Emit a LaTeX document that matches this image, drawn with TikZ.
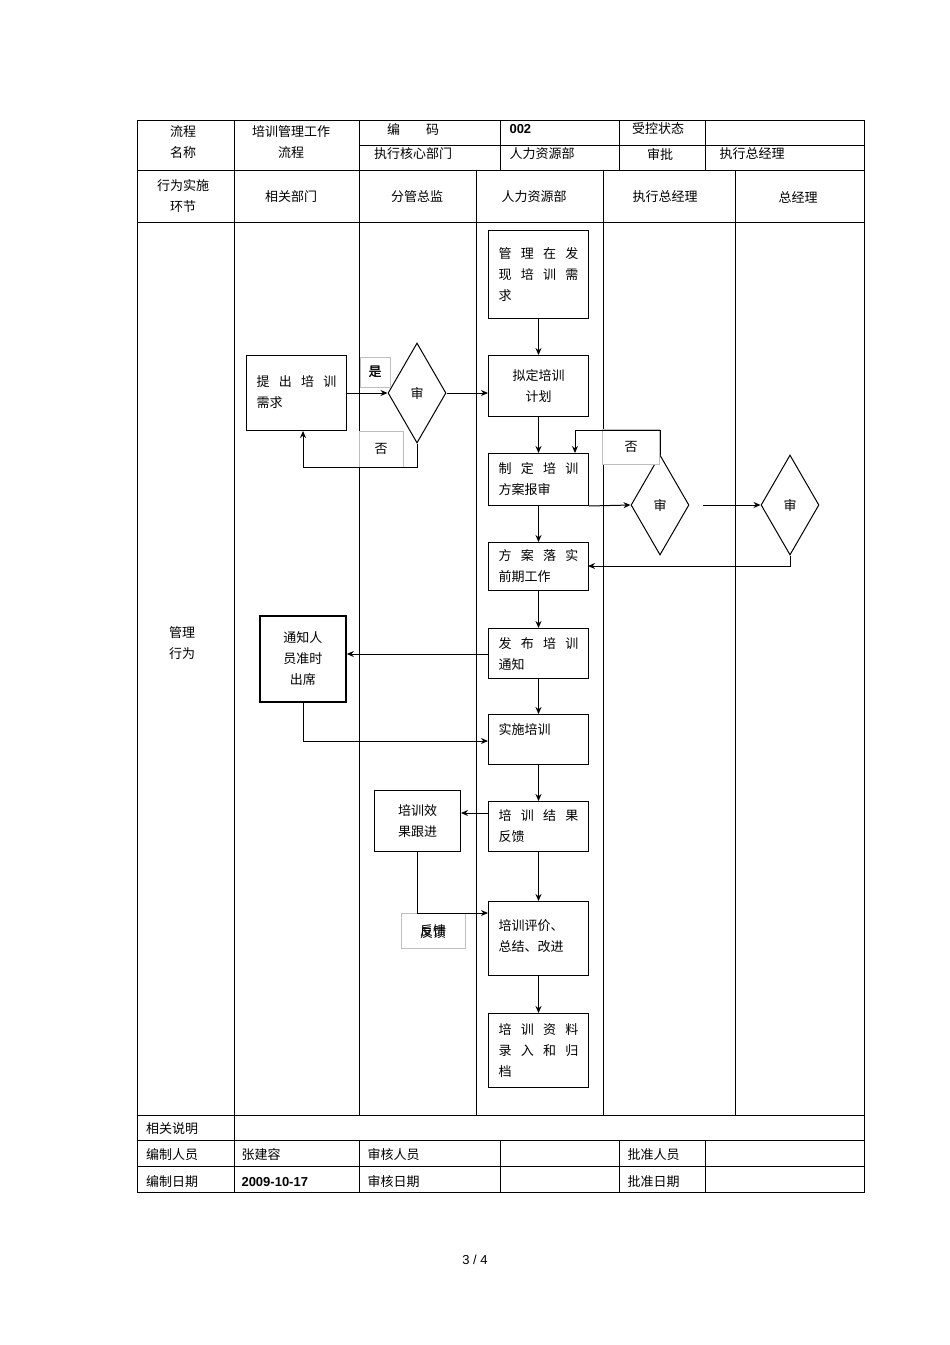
\documentclass[tikz,border=0pt]{standalone}
\usepackage{fontspec}
\setmainfont{Noto Sans CJK SC}
\newfontfamily\latin{Liberation Sans}
\usetikzlibrary{shapes.geometric,arrows.meta}
\begin{document}
\begin{tikzpicture}[x=1pt,y=-1pt,
  every node/.style={font=\fontsize{13}{21}\selectfont},
  proc/.style={draw,line width=1pt,minimum width=100,inner sep=0pt,anchor=north west,text width=80,align=left},
  dia/.style={draw,diamond,line width=1pt,minimum width=58,minimum height=100,inner sep=0pt},
  lab/.style={fill=white,draw=black!25,line width=0.4pt,inner sep=0pt},
  arr/.style={-{Stealth[length=7,width=6]},line width=1pt},
  grid/.style={line width=0.7pt}]
\useasboundingbox (0,0) rectangle (950,1345);
% table
\draw[grid] (137,120) rectangle (864,1192);
\draw[grid] (359,145) -- (864,145);
\foreach \y in {170,222,1115,1140,1166} \draw[grid] (137,\y) -- (864,\y);
\foreach \x in {234,359,500,619,705} \draw[grid] (\x,120) -- (\x,170);
\foreach \x in {234,359,476,603,735} \draw[grid] (\x,170) -- (\x,1115);
\draw[grid] (234,1115) -- (234,1192);
\foreach \x in {359,500,619,705} \draw[grid] (\x,1140) -- (\x,1192);
% header texts
\node (h1) at (183,142) [align=center] {流程\\名称};
\node (h2) at (291,142) [align=center] {培训管理工作\\流程};
\node (h3) at (413,129) {编\hspace{2em}码};
\node (h4) [anchor=west] at (506,129) {\latin\bfseries 002};
\node (h5) at (658,129) {受控状态};
\node (h6) at (413,154) {执行核心部门};
\node (h7) [anchor=west] at (506,154) {人力资源部};
\node (h8) at (660,154) {审批};
\node (h9) at (752,154) {执行总经理};
\node (l1) at (183,196) [align=center] {行为实施\\环节};
\node (l2) at (291,197) {相关部门};
\node (l3) at (417,197) {分管总监};
\node (l4) at (534,197) {人力资源部};
\node (l5) at (665,197) {执行总经理};
\node (l6) at (798,197) {总经理};
\node (gl) at (182,643) [align=center] {管理\\行为};
% footer
\node (f1) at (172,1129) {相关说明};
\node (f2) at (172,1155) {编制人员};
\node (f3) [anchor=west] at (238,1155) {张建容};
\node (f4) [anchor=west] at (364,1155) {审核人员};
\node (f5) [anchor=west] at (624,1155) {批准人员};
\node (f6) at (172,1182) {编制日期};
\node (f7) [anchor=west] at (238,1182) {\latin\bfseries 2009-10-17};
\node (f8) [anchor=west] at (364,1182) {审核日期};
\node (f9) [anchor=west] at (624,1182) {批准日期};
\node (pg) at (475,1260) {\latin 3 / 4};
% process boxes
\node (A) [proc,minimum height=88] at (488,230) {管\hfill 理\hfill 在\hfill 发\\现\hfill 培\hfill 训\hfill 需\\求};
\node (B) [proc,minimum height=61,align=center] at (488,355) {拟定培训\\计划};
\node (C) [proc,minimum height=52] at (488,453) {制\hfill 定\hfill 培\hfill 训\\方案报审};
\node (D) [proc,minimum height=48] at (488,542) {方\hfill 案\hfill 落\hfill 实\\前期工作};
\node (E) [proc,minimum height=50] at (488,628) {发\hfill 布\hfill 培\hfill 训\\通知};
\node (F) [proc,minimum height=50,text depth=22] at (488,714) {实施培训};
\node (G) [proc,minimum height=50] at (488,801) {培\hfill 训\hfill 结\hfill 果\\反馈};
\node (H) [proc,minimum height=74,text depth=28] at (488,901) {培训评价、\\总结、改进};
\node (I) [proc,minimum height=74] at (488,1013) {培\hfill 训\hfill 资\hfill 料\\录\hfill 入\hfill 和\hfill 归\\档};
\node (P) [proc,minimum height=75,text depth=24] at (246,355) {提\hfill 出\hfill 培\hfill 训\\需求};
\node (N) [proc,line width=1.8pt,minimum width=86,minimum height=86,text width=70,align=center] at (259,615) {通知人\\员准时\\出席};
\node (T) [proc,minimum width=86,minimum height=61,text width=70,align=center] at (374,790) {培训效\\果跟进};
\node (D1) [dia] at (417,393) {审};
\node (D2) [dia] at (660,505) {审};
\node (D3) [dia] at (790,505) {审};
% labels
\node (y1) [lab,minimum width=30,minimum height=30] at (375,372) {是};
\node (n1) [lab,minimum width=44,minimum height=36] at (381,449) {否};
\node (n2) [lab,minimum width=57,minimum height=35] at (631,447) {否};
\node (fk) [lab,minimum width=64,minimum height=35] at (433,931) {反馈};
\node (y1t) at (375,372) {是};
% connectors
\draw[arr] (A.south) -- (B.north);
\draw[arr] (P.east) -- (D1.west);
\draw[arr] (D1.east) -- (B.west |- D1.east);
\draw[arr] (D1.south) -- (417,467) -- (303,467) -- (P.south -| 303,0);
\draw[arr] (B.south) -- (C.north);
\draw[arr] (C.south east) ++(0,0) -- (D2.west);
\draw[arr] (D2.north) -- (660,430) -- (575,430) -- (575,453);
\coordinate (s3) at (703,505);
\draw[arr] (s3) -- (D3.west);
\draw[arr] (D3.south) -- (790,566) -- (588,566);
\draw[arr] (C.south) -- (D.north);
\draw[arr] (D.south) -- (E.north);
\draw[arr] (488,654) -- (N.east |- 0,654);
\draw[arr] (E.south) -- (F.north);
\draw[arr] (N.south -| 303,0) -- (303,741) -- (488,741);
\draw[arr] (F.south) -- (G.north);
\draw[arr] (488,813) -- (T.east |- 0,813);
\draw[arr] (G.south) -- (H.north);
\draw[arr] (T.south -| 417,0) -- (417,913) -- (488,913);
\draw[arr] (H.south) -- (I.north);
\node at (433,933) {反馈};
\end{tikzpicture}
\end{document}
